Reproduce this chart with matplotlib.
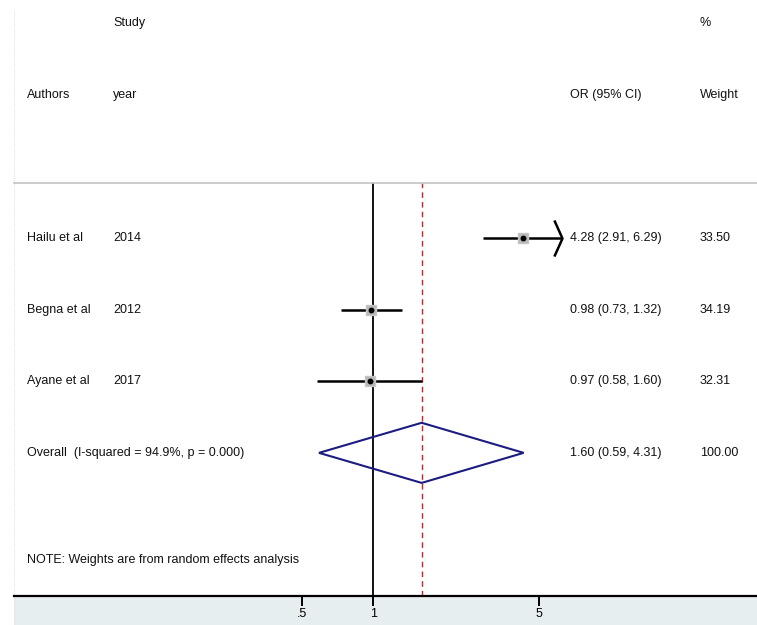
import numpy as np
import matplotlib
matplotlib.use("Agg")
import matplotlib.pyplot as plt
from matplotlib.path import Path
from matplotlib.lines import Line2D
from matplotlib.patches import Rectangle, Polygon

plt.rcParams["font.family"] = ["Liberation Sans", "DejaVu Sans"]

# study level estimates
authors = ["Hailu et al", "Begna et al", "Ayane et al"]
years = ["2014", "2012", "2017"]
odds_ratio = [4.28, 0.98, 0.97]
ci_low = [2.91, 0.73, 0.58]
ci_high = [6.29, 1.32, 1.60]
weights = [33.50, 34.19, 32.31]

# pooled random effects estimate
overall_label = "Overall  (I-squared = 94.9%, p = 0.000)"
overall_or = 1.60
overall_low = 0.59
overall_high = 4.31
overall_weight = 100.00

tick_values = [0.5, 1, 5]
tick_labels = [".5", "1", "5"]
note = "NOTE: Weights are from random effects analysis"

W, H = 757, 625
fig = plt.figure(figsize=(W / 100, H / 100), dpi=100)

# plot region in pixels
left_px, right_px, top_px, bot_px = 14, 757, 183, 596
ax = fig.add_axes([left_px / W, 1 - bot_px / H,
                   (right_px - left_px) / W, (bot_px - top_px) / H])
ax.set_zorder(2)
ax.set_xscale("log")
px_per_ln = 102.9
x_null_px = 373.3
ax.set_xlim(np.exp((left_px - x_null_px) / px_per_ln),
            np.exp((right_px - x_null_px) / px_per_ln))
ax.set_ylim(5.0, -0.77)
x_cap = np.exp((562 - x_null_px) / px_per_ln)

# grey band under the axis
fig.patches.append(Rectangle((left_px / W, 0), 1 - left_px / W, 1 - bot_px / H,
                             transform=fig.transFigure, facecolor="#e7eef0",
                             edgecolor="none", zorder=0))
fig.add_artist(Line2D([left_px / W, left_px / W], [0, 1 - 10 / H],
                      transform=fig.transFigure, color="#e4e4e4", lw=0.8,
                      linestyle=(0, (1, 1))))

for s in ["left", "right"]:
    ax.spines[s].set_visible(False)
ax.spines["top"].set_color("#c4c4c4")
ax.spines["top"].set_linewidth(1.2)
ax.spines["bottom"].set_color("black")
ax.spines["bottom"].set_linewidth(1.6)
ax.set_yticks([])
ax.set_xticks(tick_values)
ax.set_xticklabels(tick_labels)
ax.xaxis.set_minor_locator(matplotlib.ticker.NullLocator())
ax.tick_params(axis="x", direction="out", length=7.5, width=1.4,
               pad=1, labelsize=9, colors="black")
ax.patch.set_alpha(0)

# null line and pooled estimate line
ax.axvline(1, color="black", lw=1.3, zorder=2)
ax.axvline(overall_or, color="#a8323a", lw=1.0, linestyle=(0, (4, 3)), zorder=2)

chevron = Path([(-0.45, 1.0), (0, 0), (-0.45, -1.0)],
               [Path.MOVETO, Path.LINETO, Path.LINETO])

for i, (est, lo, hi) in enumerate(zip(odds_ratio, ci_low, ci_high)):
    end = min(hi, x_cap)
    ax.plot([lo, end], [i, i], color="black", lw=1.8, solid_capstyle="butt", zorder=3)
    if hi > x_cap:
        ax.plot([x_cap], [i], marker=chevron, markersize=26, color="black",
                markerfacecolor="none", markeredgewidth=1.8, zorder=3)
    ax.plot([est], [i], marker="s", markersize=6.5, color="#b8b8b8",
            markeredgecolor="#c4c4c4", zorder=4)
    ax.plot([est], [i], marker="o", markersize=3.2, color="black", zorder=5)

# pooled diamond
yo = len(authors)
dh = 0.42
diamond = Polygon([(overall_low, yo), (overall_or, yo - dh),
                   (overall_high, yo), (overall_or, yo + dh)],
                  closed=True, fill=False, edgecolor="#1c1c80", lw=1.5, zorder=4)
ax.add_patch(diamond)

# text columns
tx = ax.get_yaxis_transform()  # y in data rows, x in axes fraction


def fx(px):
    return (px - left_px) / (right_px - left_px)


kw = dict(fontsize=9, va="center", transform=tx, clip_on=False, color="#111111")
ax.text(fx(113), -3, "Study", **kw)
ax.text(fx(700), -3, "%", **kw)
ax.text(fx(27), -2, "Authors", **kw)
ax.text(fx(113), -2, "year", **kw)
ax.text(fx(570), -2, "OR (95% CI)", **kw)
ax.text(fx(700), -2, "Weight", **kw)

for i in range(len(authors)):
    ax.text(fx(27), i, authors[i], **kw)
    ax.text(fx(113), i, years[i], **kw)
    ax.text(fx(570), i, f"{odds_ratio[i]:.2f} ({ci_low[i]:.2f}, {ci_high[i]:.2f})", **kw)
    ax.text(fx(700), i, f"{weights[i]:.2f}", **kw)

ax.text(fx(27), yo, overall_label, **kw)
ax.text(fx(570), yo,
        f"{overall_or:.2f} ({overall_low:.2f}, {overall_high:.2f})", **kw)
ax.text(fx(700), yo, f"{overall_weight:.2f}", **kw)
ax.text(fx(27), 4.5, note, **kw)

fig.savefig("out.png", dpi=100)
